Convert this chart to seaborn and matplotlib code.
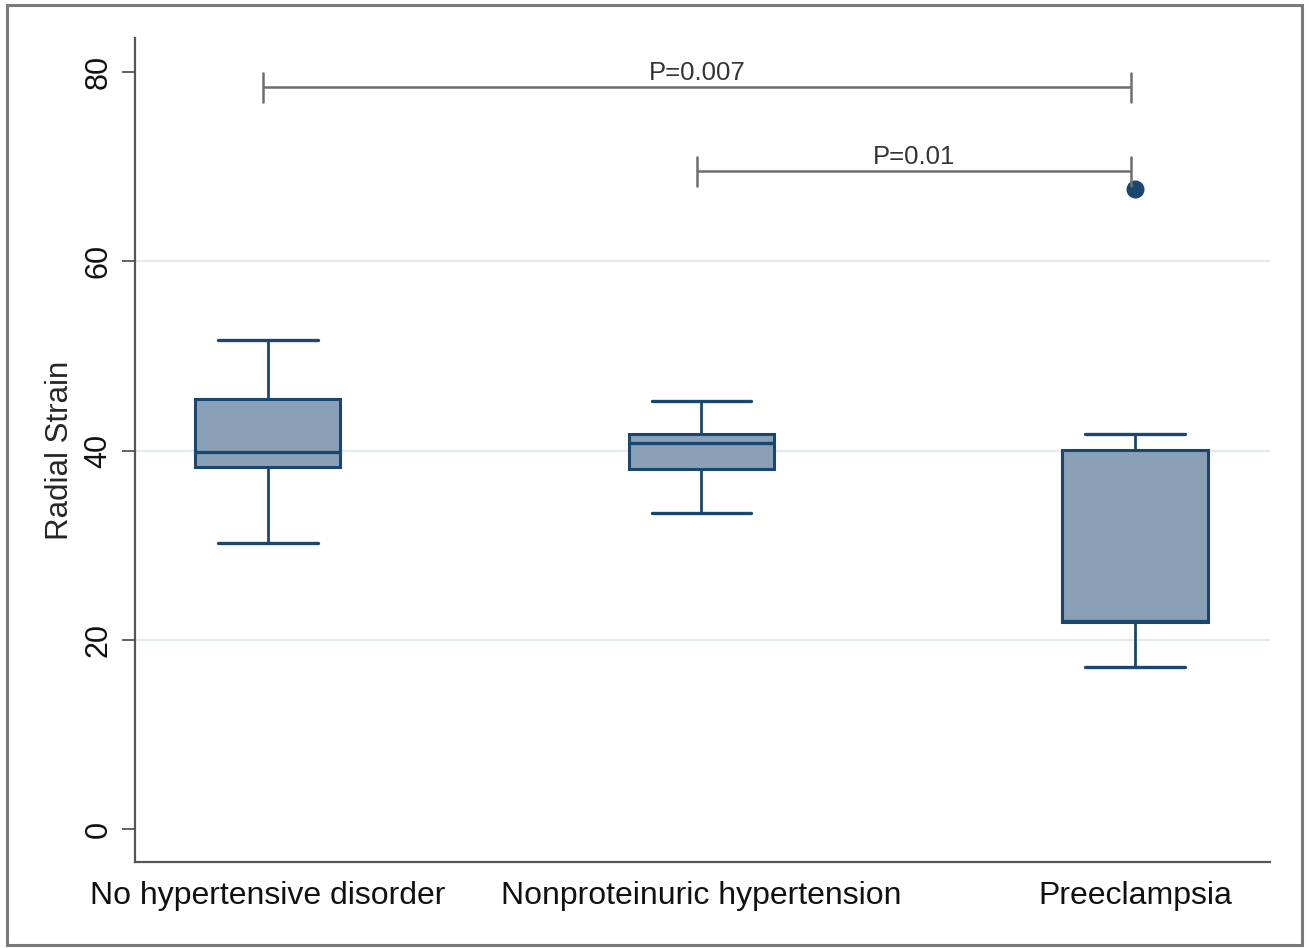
import numpy as np
import pandas as pd
import matplotlib
matplotlib.use("Agg")
import matplotlib.pyplot as plt
from matplotlib.patches import Rectangle
import seaborn as sns

# ---- data ----
categories = ["No hypertensive disorder", "Nonproteinuric hypertension", "Preeclampsia"]
lower_whisker = [30.2, 33.4, 17.1]
q1 = [38.3, 38.0, 21.9]
median = [39.8, 40.8, 22.0]
q3 = [45.4, 41.7, 40.05]
upper_whisker = [51.7, 45.2, 41.7]
outliers = [[], [], [67.6]]

y_ticks = [0, 20, 40, 60, 80]
y_label = "Radial Strain"

comparisons = [("No hypertensive disorder", "Preeclampsia", "P=0.007", 78.4),
               ("Nonproteinuric hypertension", "Preeclampsia", "P=0.01", 69.5)]

# build observations whose quartiles / whiskers reproduce each summary
# (8 core values -> quartiles land exactly on q1, median, q3 for n=8 and n=9)
rows = []
for i, c in enumerate(categories):
    vals = [lower_whisker[i], q1[i], q1[i], median[i], median[i],
            q3[i], q3[i], upper_whisker[i]] + outliers[i]
    for v in vals:
        rows.append({"group": c, "value": v})
df = pd.DataFrame(rows)

# ---- style ----
sns.set_theme(style="white")
plt.rcParams["font.family"] = ["Liberation Sans", "DejaVu Sans"]

navy = "#1a476f"
fill = "#8aa0b7"
gray = "#6e6e6e"
gridc = "#e3ebee"

fig = plt.figure(figsize=(13.09, 9.48), dpi=100)
ax = fig.add_axes([135/1309, 1-862/948, (1270-135)/1309, (862-38)/948])

for t in y_ticks[1:-1]:
    ax.axhline(t, color=gridc, lw=1.6, zorder=0)

sns.boxplot(data=df, x="group", y="value", order=categories, ax=ax,
            width=0.335, whis=1.5, color=fill, saturation=1,
            linecolor=navy, linewidth=2.2,
            medianprops=dict(color=navy, linewidth=2.4),
            capprops=dict(color=navy, linewidth=2.4),
            whiskerprops=dict(color=navy, linewidth=2.0),
            boxprops=dict(edgecolor=navy, facecolor=fill, linewidth=2.2),
            flierprops=dict(marker="o", markerfacecolor=navy, markeredgecolor=navy,
                            markersize=12),
            capwidths=0.23, zorder=2)

# significance brackets
pos = {c: i for i, c in enumerate(categories)}
for a, b, label, yv in comparisons:
    xa, xb = pos[a] - 0.01, pos[b] - 0.01
    ax.plot([xa, xb], [yv, yv], color=gray, lw=1.8, zorder=3, solid_capstyle="butt")
    for xx in (xa, xb):
        ax.plot([xx, xx], [yv + 1.55, yv - 1.55], color=gray, lw=1.8, zorder=3)
    ax.text((xa + xb) / 2, yv + 0.25, label, ha="center", va="bottom",
            fontsize=18.5, color="#333333")

ax.set_xlim(-0.306, 2.311)
ax.set_ylim(-3.49, 83.6)
ax.set_yticks(y_ticks)
ax.set_yticklabels([str(t) for t in y_ticks], rotation=90, va="center", fontsize=22)
ax.set_ylabel(y_label, fontsize=22.5, labelpad=6)
ax.set_xlabel("")
ax.tick_params(axis="x", bottom=False, length=0, pad=14, labelsize=23)
ax.tick_params(axis="y", left=True, length=9.5, width=1.3, color="#555555", pad=6)
for lab in ax.get_xticklabels() + ax.get_yticklabels():
    lab.set_color("#111111")

for s in ["top", "right"]:
    ax.spines[s].set_visible(False)
for s in ["left", "bottom"]:
    ax.spines[s].set_color("#555555")
    ax.spines[s].set_linewidth(1.6)

# outer frame
fig.patches.append(Rectangle((7/1309, 3/948), (1302-7)/1309, (943-3)/948,
                             transform=fig.transFigure, fill=False,
                             edgecolor="#7a7a7a", linewidth=2.2))

fig.savefig("out.png", dpi=100)
